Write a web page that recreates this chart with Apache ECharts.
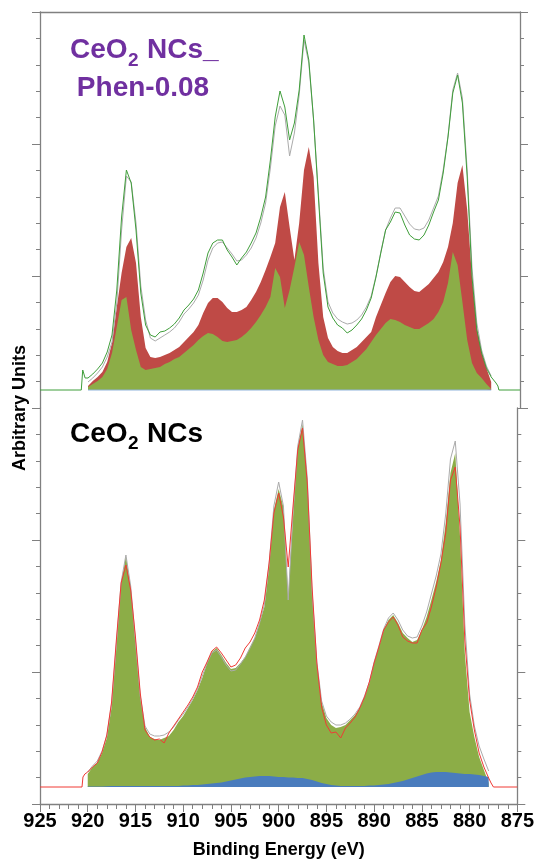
<!DOCTYPE html>
<html>
<head>
<meta charset="utf-8">
<script src="https://cdn.jsdelivr.net/npm/echarts@6/dist/echarts.min.js"></script>
<style>
  html, body { margin: 0; padding: 0; background: #fff; }
  #chart { width: 537px; height: 861px; }
</style>
</head>
<body>
<div id="chart"></div>
<script>
// binding energy grid (eV), shared by all fitted traces
const energy = [
  920, 919.5, 919, 918.5, 918, 917.5, 917, 916.5, 916, 915.5,
  915, 914.5, 914, 913.5, 913, 912.5, 912, 911.5, 911, 910.5,
  910, 909.5, 909, 908.5, 908, 907.5, 907, 906.5, 906, 905.5,
  905, 904.5, 904, 903.5, 903, 902.5, 902, 901.5, 901, 900.5,
  900, 899.5, 899, 898.5, 898, 897.5, 897, 896.5, 896, 895.5,
  895, 894.5, 894, 893.5, 893, 892.5, 892, 891.5, 891, 890.5,
  890, 889.5, 889, 888.5, 888, 887.5, 887, 886.5, 886, 885.5,
  885, 884.5, 884, 883.5, 883, 882.5, 882, 881.5, 881, 880.5,
  880, 879.5, 879, 878.5, 878
];

// --- CeO2 NCs_Phen-0.08 (top) ---
const topBase = 18;
const topEnvelope = [
  30, 34, 39, 45, 56, 73, 118, 191, 238, 225,
  178, 115, 83, 73, 71, 76, 77, 80, 84, 90,
  98, 103, 109, 118, 135, 155, 165, 168, 168, 158,
  151, 143, 150, 156, 165, 175, 191, 211, 248, 291,
  317, 301, 268, 285, 318, 373, 348, 288, 211, 135,
  101, 90, 83, 80, 75, 78, 83, 89, 98, 110,
  131, 155, 178, 186, 196, 195, 183, 173, 169, 168,
  173, 183, 196, 208, 235, 271, 315, 333, 305, 231,
  131, 78, 55, 40, 31
];
const topEnvelopeLeft = [[925, 18], [920.7, 18], [920.55, 38], [920.3, 30]];
const topEnvelopeRight = [[877.5, 25], [877.3, 22], [877.2, 18], [875, 18]];
const topRaw = [
  26, 30, 35, 41, 51, 66, 105, 178, 232, 226,
  185, 122, 88, 70, 67, 70, 73, 76, 80, 86,
  94, 99, 105, 113, 128, 148, 160, 165, 166, 160,
  154, 147, 148, 153, 160, 170, 185, 205, 240, 282,
  302, 293, 252, 275, 313, 368, 345, 288, 215, 140,
  106, 95, 89, 86, 84, 85, 88, 93, 101, 112,
  132, 156, 178, 190, 200, 200, 192, 184, 179, 178,
  180, 188, 200, 212, 238, 272, 318, 335, 310, 238,
  140, 85, 58, 42, 32
];
const topRed = [
  22, 27, 31, 36, 46, 65, 101, 135, 161, 170,
  145, 91, 60, 51, 50, 51, 53, 55, 58, 61,
  66, 71, 76, 83, 95, 105, 110, 110, 106, 100,
  96, 96, 98, 101, 108, 116, 126, 138, 151, 165,
  201, 216, 181, 148, 185, 238, 261, 231, 145, 91,
  70, 61, 57, 55, 55, 58, 61, 66, 71, 76,
  91, 103, 115, 126, 132, 131, 126, 121, 117, 116,
  120, 124, 130, 136, 146, 161, 185, 225, 243, 198,
  131, 81, 56, 40, 26
];
const topGreen = [
  21, 24, 27, 31, 39, 55, 81, 108, 111, 78,
  58, 41, 38, 39, 40, 41, 44, 46, 49, 51,
  55, 59, 63, 68, 72, 75, 74, 71, 67, 66,
  67, 68, 71, 75, 80, 86, 93, 101, 111, 140,
  131, 100, 118, 141, 166, 153, 121, 91, 68, 53,
  46, 44, 42, 42, 43, 46, 49, 54, 59, 66,
  73, 79, 85, 89, 88, 86, 83, 81, 79, 79,
  82, 85, 89, 96, 106, 125, 156, 143, 106, 68,
  45, 35, 30, 24, 19
];
const blueSpan = [920, 878];
const topBlue = [18, 18];

// --- CeO2 NCs (bottom) ---
const botBase = 17;
const botGreen = [
  30, 37, 41, 51, 66, 97, 157, 221, 248, 217,
  161, 107, 77, 67, 65, 64, 66, 68, 74, 82,
  88, 96, 104, 114, 126, 141, 152, 156, 149, 141,
  135, 136, 141, 147, 157, 166, 181, 197, 237, 294,
  315, 297, 207, 287, 357, 380, 324, 211, 141, 102,
  86, 79, 76, 77, 79, 84, 89, 96, 107, 121,
  142, 157, 174, 184, 189, 181, 171, 166, 162, 164,
  174, 187, 204, 222, 244, 281, 331, 351, 267, 151,
  92, 67, 47, 34, 21
];
const botRed = [
  32, 37, 41, 52, 69, 102, 164, 221, 239, 214,
  167, 111, 74, 67, 64, 65, 61, 71, 78, 85,
  92, 99, 107, 117, 132, 142, 153, 157, 151, 144,
  137, 139, 146, 156, 162, 171, 184, 204, 241, 291,
  311, 287, 237, 297, 354, 376, 321, 217, 141, 97,
  79, 71, 72, 66, 76, 81, 87, 96, 107, 122,
  141, 157, 174, 182, 187, 179, 167, 163, 161, 161,
  174, 181, 197, 217, 241, 271, 324, 337, 277, 164,
  104, 74, 51, 37, 26
];
const botRedLeft = [[925, 17], [920.6, 17], [920.5, 27], [920.3, 30]];
const botRedRight = [[877.75, 21], [877.6, 19], [877.5, 17], [875, 17]];
const botRaw = [
  32, 38, 43, 53, 68, 100, 160, 222, 249, 218,
  163, 108, 78, 70, 68, 68, 69, 72, 77, 84,
  90, 97, 105, 115, 128, 141, 151, 154, 147, 139,
  133, 134, 140, 147, 156, 166, 181, 199, 240, 298,
  322, 298, 204, 290, 358, 384, 326, 212, 142, 103,
  88, 82, 79, 79, 81, 85, 90, 97, 108, 122,
  142, 158, 175, 186, 191, 184, 174, 168, 166, 167,
  178, 192, 210, 228, 250, 290, 345, 363, 300, 180,
  110, 78, 58, 45, 33
];
const botBlue = [
  17.5, 17.5, 17.5, 17.5, 17.8, 18, 18, 18, 18, 18,
  18, 18, 18, 18, 18, 18, 18, 18, 18, 18,
  18.5, 18.5, 19, 19, 19.5, 20, 20.5, 21, 21.5, 22.5,
  23.5, 24.5, 25.5, 26.5, 27, 27.5, 28, 28, 28, 27.5,
  27, 27, 26.5, 26.5, 26, 26, 25, 24, 22.5, 21,
  20, 19, 18.5, 18, 18, 18, 18, 18, 18, 18.5,
  18.5, 19, 19.5, 20, 21, 22, 23, 24.5, 26, 27.5,
  29, 30.5, 31.5, 32, 32, 32, 31.5, 31, 30.5, 30,
  30, 29.5, 29, 28, 27
];
const xTicks = [925, 875];

const pairs = (xs, ys) => xs.map((x, i) => [x, ys[i]]);

const frame = '#808080';
const font = '"Liberation Sans", Arial, sans-serif';
const chart = echarts.init(document.getElementById('chart'));

function yAxes(grid) {
  return ['left', 'right'].map(pos => ({
    type: 'value', gridIndex: grid, position: pos,
    min: 0, max: 396, interval: 132,
    axisLine: {show: true, onZero: false, lineStyle: {color: frame, width: 1.3}},
    axisTick: {show: true, length: 8, lineStyle: {color: frame}},
    minorTick: {show: true, splitNumber: 5, length: 4, lineStyle: {color: frame}},
    axisLabel: {show: false},
    splitLine: {show: false}
  }));
}

function area(xi, yi, ys, color, base) {
  return {
    type: 'line', xAxisIndex: xi, yAxisIndex: yi, data: pairs(energy, ys),
    symbol: 'none', silent: true, lineStyle: {width: 0},
    areaStyle: {color: color, opacity: 1, origin: base}
  };
}
function line(xi, yi, data, color) {
  return {
    type: 'line', xAxisIndex: xi, yAxisIndex: yi, data: data,
    symbol: 'none', silent: true, lineStyle: {width: 1, color: color}
  };
}

const option = {
  animation: false,
  backgroundColor: '#fff',
  grid: [
    {left: 40, width: 480, top: 12, height: 396},
    {left: 40, width: 480, top: 408, height: 396}
  ],
  xAxis: [
    {
      type: 'value', gridIndex: 0, position: 'top', inverse: true,
      min: xTicks[1], max: xTicks[0],
      axisLine: {show: true, onZero: false, lineStyle: {color: frame, width: 1.3}},
      axisTick: {show: false}, axisLabel: {show: false}, splitLine: {show: false}
    },
    {
      type: 'value', gridIndex: 1, position: 'bottom', inverse: true,
      min: xTicks[1], max: xTicks[0], interval: 5,
      axisLine: {show: true, onZero: false, lineStyle: {color: frame, width: 1.3}},
      axisTick: {show: true, length: 8, lineStyle: {color: frame}},
      minorTick: {show: true, splitNumber: 5, length: 5, lineStyle: {color: frame}},
      axisLabel: {color: '#000', fontSize: 20, fontWeight: 'bold', fontFamily: font, margin: 7},
      splitLine: {show: false},
      name: 'Binding Energy (eV)', nameLocation: 'middle', nameGap: 37,
      nameTextStyle: {color: '#000', fontSize: 18, fontWeight: 'bold', fontFamily: font}
    }
  ],
  yAxis: [...yAxes(0), ...yAxes(1)],
  series: [
    // top panel
    area(0, 0, topRed, '#bf4a46', topBase),
    area(0, 0, topGreen, '#8cad47', topBase),
    line(0, 0, pairs(blueSpan, topBlue), '#8fb3dc'),
    line(0, 0, pairs(energy, topRaw), '#ababab'),
    line(0, 0, [...topEnvelopeLeft, ...pairs(energy, topEnvelope), ...topEnvelopeRight], '#3f9e3a'),
    // bottom panel
    area(1, 2, botGreen, '#8cad47', botBase),
    area(1, 2, botBlue, '#4a7cbd', botBase),
    line(1, 2, pairs(energy, botRaw), '#ababab'),
    line(1, 2, [...botRedLeft, ...pairs(energy, botRed), ...botRedRight], '#f03a35')
  ],
  graphic: [
    {type: 'text', x: 70, y: 50, z: 100, style: {text: 'CeO', fill: '#7030a0', font: 'bold 28px ' + font, textAlign: 'left', textVerticalAlign: 'middle'}},
    {type: 'text', x: 128, y: 61, z: 100, style: {text: '2', fill: '#7030a0', font: 'bold 19px ' + font, textAlign: 'left', textVerticalAlign: 'middle'}},
    {type: 'text', x: 147, y: 50, z: 100, style: {text: 'NCs_', fill: '#7030a0', font: 'bold 28px ' + font, textAlign: 'left', textVerticalAlign: 'middle'}},
    {type: 'text', x: 143, y: 88, z: 100, style: {text: 'Phen-0.08', fill: '#7030a0', font: 'bold 28px ' + font, textAlign: 'center', textVerticalAlign: 'middle'}},
    {type: 'text', x: 70, y: 434, z: 100, style: {text: 'CeO', fill: '#000', font: 'bold 28px ' + font, textAlign: 'left', textVerticalAlign: 'middle'}},
    {type: 'text', x: 128, y: 444, z: 100, style: {text: '2', fill: '#000', font: 'bold 19px ' + font, textAlign: 'left', textVerticalAlign: 'middle'}},
    {type: 'text', x: 147, y: 434, z: 100, style: {text: 'NCs', fill: '#000', font: 'bold 28px ' + font, textAlign: 'left', textVerticalAlign: 'middle'}},
    {type: 'text', x: 20, y: 408, rotation: Math.PI / 2, z: 100, style: {text: 'Arbitrary Units', fill: '#000', font: 'bold 18px ' + font, textAlign: 'center', textVerticalAlign: 'middle'}}
  ]
};

chart.setOption(option);
</script>
</body>
</html>
